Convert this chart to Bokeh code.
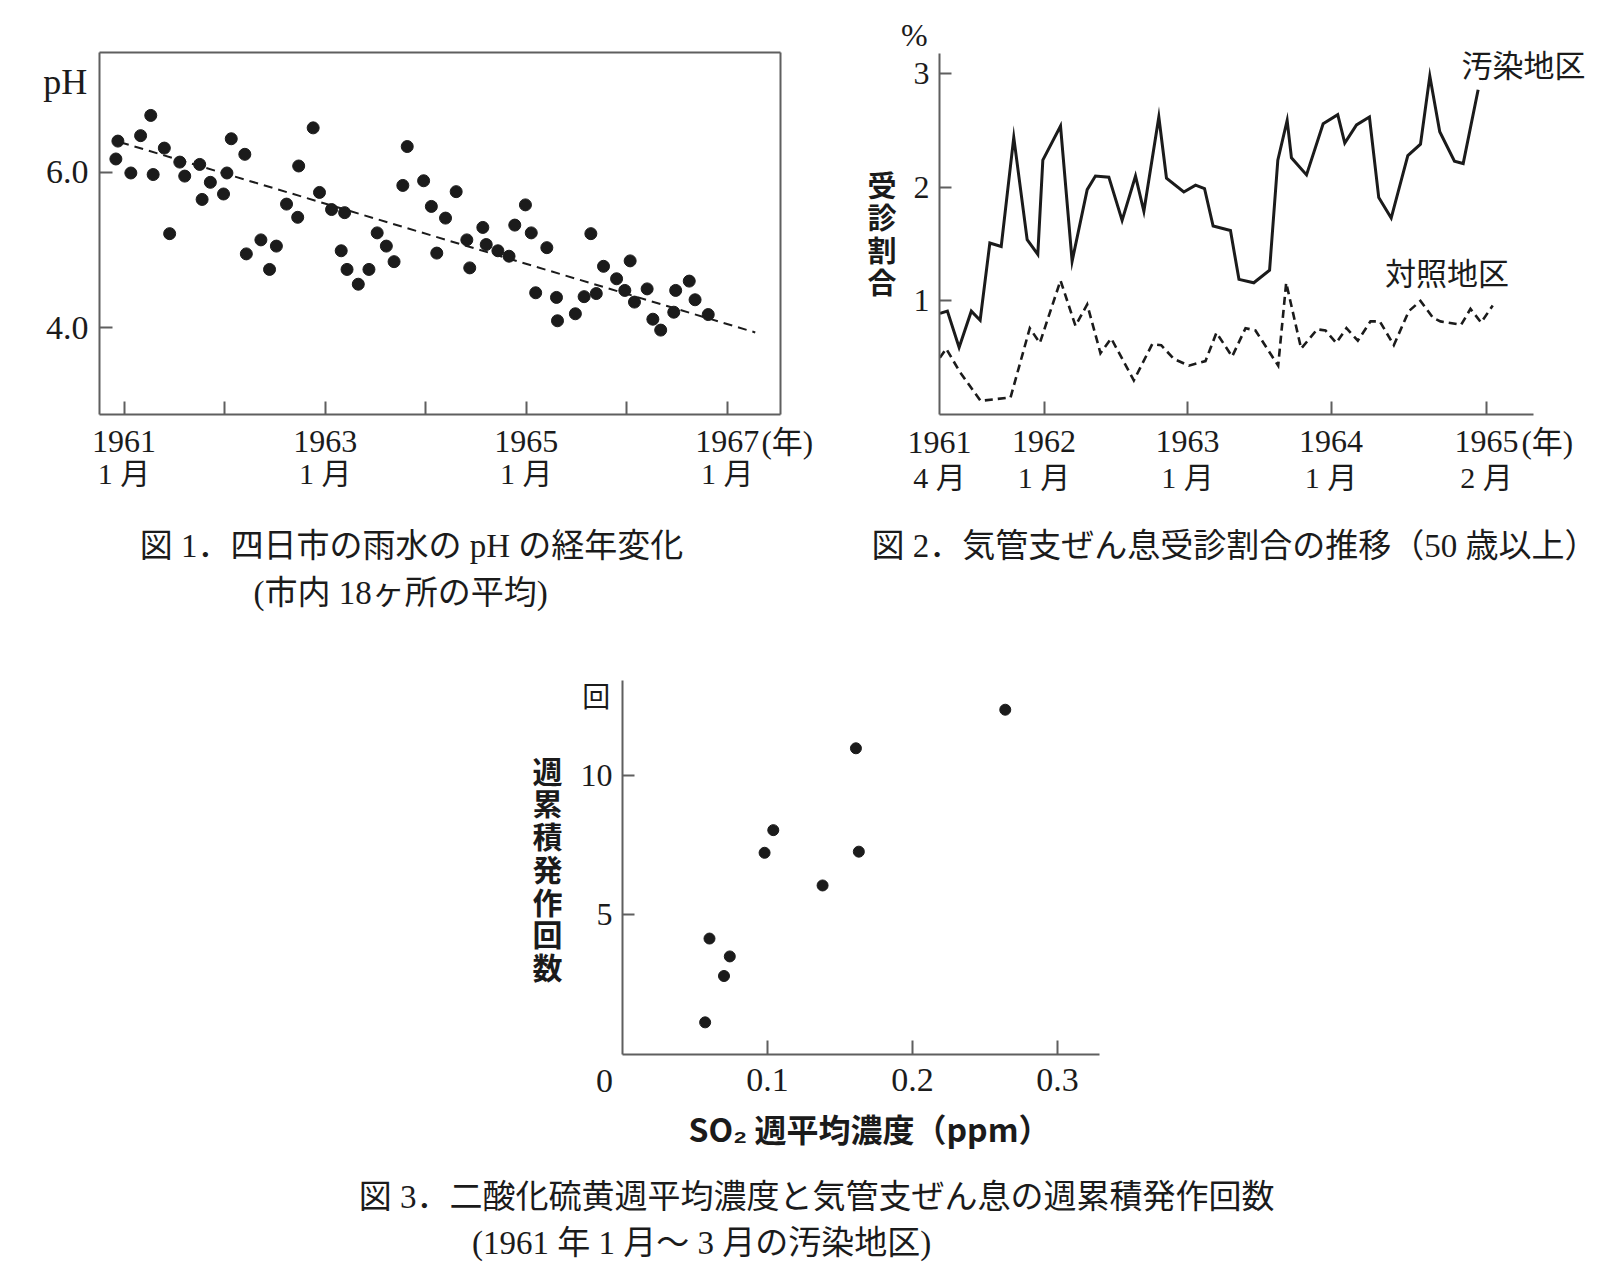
from bokeh.plotting import figure
from bokeh.models import Label, FixedTicker, Range1d, PrintfTickFormatter, LinearAxis
from bokeh.layouts import column, row
from bokeh.embed import file_html
from bokeh.resources import INLINE

# ---------------- data: Fig.1  rain-water pH in Yokkaichi ----------------
ph_year = [1960.918, 1960.938, 1961.067, 1961.164, 1961.265, 1961.289, 1961.400, 1961.453,
           1961.554, 1961.603, 1961.752, 1961.776, 1961.858, 1961.989, 1962.023, 1962.066,
           1962.201, 1962.216, 1962.361, 1962.447, 1962.515, 1962.616, 1962.727, 1962.737,
           1962.881, 1962.944, 1963.064, 1963.194, 1963.160, 1963.218, 1963.330, 1963.436,
           1963.518, 1963.609, 1963.686, 1963.773, 1963.817, 1963.980, 1964.057, 1964.111,
           1964.198, 1964.304, 1964.410, 1964.439, 1964.569, 1964.603, 1964.719, 1964.830,
           1964.887, 1964.993, 1965.051, 1965.095, 1965.206, 1965.302, 1965.312, 1965.490,
           1965.577, 1965.644, 1965.698, 1965.770, 1965.900, 1965.982, 1966.035, 1966.078,
           1966.204, 1966.261, 1966.339, 1966.469, 1966.488, 1966.623, 1966.681, 1966.812]
ph_value = [6.17, 6.40, 5.99, 6.47, 6.73, 5.97, 6.31, 5.21, 6.13, 5.95, 6.10, 5.65, 5.87, 5.72,
            5.99, 6.43, 6.23, 4.95, 5.13, 4.75, 5.05, 5.59, 5.42, 6.08, 6.57, 5.74, 5.52, 5.48,
            4.99, 4.75, 4.56, 4.75, 5.22, 5.05, 4.85, 5.83, 6.33, 5.89, 5.56, 4.96, 5.41, 5.75,
            5.13, 4.77, 5.29, 5.07, 4.99, 4.92, 5.32, 5.58, 5.22, 4.45, 5.03, 4.39, 4.09, 4.18,
            4.40, 5.21, 4.44, 4.79, 4.63, 4.48, 4.86, 4.33, 4.50, 4.11, 3.97, 4.20, 4.48, 4.60,
            4.36, 4.17]
trend_year = [1960.96, 1967.28]
trend_ph = [6.386, 3.94]
fig1_tick_years = [1961, 1962, 1963, 1964, 1965, 1966, 1967]
fig1_label_years = [1961, 1963, 1965, 1967]
fig1_month_labels = ["1 月", "1 月", "1 月", "1 月"]
fig1_y_ticks = [4.0, 6.0]
fig1_xrange = (1960.755, 1967.531)
fig1_yrange = (2.885, 7.539)

# ---------------- data: Fig.2  asthma consultation rate ----------------
# x = months counted from January 1961
polluted_month = [3.30, 3.92, 4.90, 5.92, 6.66, 7.47, 8.42, 9.47, 10.59, 11.48, 11.90, 13.38,
                  14.35, 15.61, 16.30, 17.42, 18.53, 19.65, 20.35, 21.60, 22.24, 23.69, 24.67,
                  25.42, 26.14, 27.59, 28.30, 29.54, 30.86, 31.55, 32.33, 32.69, 33.95, 35.34,
                  36.56, 37.15, 38.13, 39.21, 39.99, 41.03, 42.42, 43.48, 44.26, 45.09, 46.32,
                  47.05, 48.30]
polluted_pct = [0.89, 0.91, 0.59, 0.91, 0.83, 1.51, 1.48, 2.44, 1.54, 1.41, 2.24, 2.54, 1.35,
                1.98, 2.10, 2.09, 1.71, 2.10, 1.79, 2.62, 2.08, 1.96, 2.02, 1.99, 1.66, 1.62,
                1.19, 1.16, 1.27, 2.24, 2.59, 2.26, 2.11, 2.56, 2.64, 2.39, 2.55, 2.62, 1.91,
                1.73, 2.28, 2.38, 2.98, 2.49, 2.23, 2.21, 2.86]
control_month = [3.29, 3.82, 4.93, 6.69, 9.20, 10.81, 11.65, 13.38, 14.63, 15.61, 16.72, 17.62,
                 19.51, 21.05, 21.80, 22.85, 24.11, 25.50, 26.42, 27.73, 28.85, 29.68, 31.58,
                 32.25, 33.50, 34.84, 35.54, 36.43, 37.29, 38.24, 39.30, 40.08, 41.25, 42.50,
                 43.48, 44.54, 45.15, 46.88, 47.66, 48.55, 49.52]
control_pct = [0.50, 0.58, 0.38, 0.12, 0.15, 0.76, 0.63, 1.18, 0.78, 0.97, 0.54, 0.67, 0.30,
               0.62, 0.61, 0.49, 0.43, 0.47, 0.72, 0.51, 0.76, 0.74, 0.43, 1.16, 0.58, 0.75,
               0.74, 0.63, 0.76, 0.65, 0.82, 0.82, 0.61, 0.91, 1.00, 0.85, 0.82, 0.79, 0.93,
               0.81, 0.96]
fig2_start_month = 3.26
fig2_label_months = [fig2_start_month, 12, 24, 36, 49]
fig2_year_labels = ["1961", "1962", "1963", "1964", "1965"]
fig2_month_labels = ["4 月", "1 月", "1 月", "1 月", "2 月"]
fig2_y_ticks = [1, 2, 3]
fig2_xrange = (fig2_start_month, 52.93)
fig2_yrange = (0.0, 3.179)

# ---------------- data: Fig.3  SO2 vs weekly asthma attacks ----------------
so2_ppm = [0.264, 0.161, 0.104, 0.098, 0.163, 0.138, 0.060, 0.074, 0.070, 0.057]
attacks = [12.34, 10.96, 8.03, 7.22, 7.26, 6.05, 4.15, 3.51, 2.81, 1.15]
fig3_x_ticks = [0.1, 0.2, 0.3]
fig3_y_ticks = [5, 10]
fig3_xrange = (0.0, 0.329)
fig3_yrange = (0.0, 13.386)

# ---------------- style ----------------
INK = "#1b1b1b"
GREY = "#5f5f5f"
SERIF = "'Liberation Serif', 'Noto Sans CJK JP', serif"
JP = "'Noto Sans CJK JP', sans-serif"
TOTAL_W = 1618
LEFT_W = 840
TOP_H = 620
BOT_H = 656


def style_axis(ax, tick_in, size, standoff):
    ax.axis_line_color = GREY
    ax.axis_line_width = 2
    ax.major_tick_line_color = GREY
    ax.major_tick_line_width = 2
    ax.major_tick_in = tick_in
    ax.major_tick_out = 0
    ax.minor_tick_line_color = None
    ax.major_label_text_font = SERIF
    ax.major_label_text_color = INK
    ax.major_label_text_font_size = f"{size}px"
    ax.major_label_standoff = standoff


def make_fig(width, height, x0, y0, box_px, xdat, ydat):
    """Figure whose frame fills the whole figure; the plot area (box_px, canvas pixels)
    corresponds to the data box xdat x ydat, axes are fixed at its edges."""
    l, r, t, b = box_px
    xa, xb = xdat
    ya, yb = ydat
    sx = (r - l) / (xb - xa)
    sy = (b - t) / (yb - ya)
    xr = (xa - (l - x0) / sx, xb + (x0 + width - r) / sx)
    yr = (ya - (y0 + height - b) / sy, yb + (t - y0) / sy)
    p = figure(width=width, height=height, x_range=Range1d(*xr), y_range=Range1d(*yr),
               output_backend="svg", toolbar_location=None, min_border=0, title=None)
    p.xgrid.visible = False
    p.ygrid.visible = False
    p.background_fill_color = "white"
    p.border_fill_color = "white"
    p.outline_line_color = None
    p.xaxis.fixed_location = ya
    p.xaxis.bounds = (xa, xb)
    p.yaxis.fixed_location = xa
    p.yaxis.bounds = (ya, yb)

    def fx(px):
        return xa + (px - l) / sx

    def fy(py):
        return yb - (py - t) / sy

    return p, fx, fy


def lab(p, x, y, text, size, font=SERIF, bold=False, align="center", baseline="middle"):
    p.add_layout(Label(x=x, y=y, text=text, text_font=font, text_font_size=f"{size}px",
                       text_font_style="bold" if bold else "normal", text_align=align,
                       text_baseline=baseline, text_color=INK))


def plain_axis(p, place, loc, bounds):
    ax = LinearAxis(fixed_location=loc, bounds=bounds, ticker=FixedTicker(ticks=[]),
                    axis_line_color=GREY, axis_line_width=2,
                    major_tick_line_color=None, minor_tick_line_color=None)
    p.add_layout(ax, place)


# ================= Figure 1 =================
f1, f1x, f1y = make_fig(LEFT_W, TOP_H, 0, 0, (99, 780, 52, 414), fig1_xrange, fig1_yrange)
f1.xaxis.ticker = FixedTicker(ticks=fig1_tick_years)
f1.xaxis.major_label_overrides = {y: (str(y) if y in fig1_label_years else "") for y in fig1_tick_years}
style_axis(f1.xaxis[0], 13, 32, 16)
f1.yaxis.ticker = FixedTicker(ticks=fig1_y_ticks)
f1.yaxis.formatter = PrintfTickFormatter(format="%.1f")
style_axis(f1.yaxis[0], 13, 34, 11)
plain_axis(f1, "above", fig1_yrange[1], fig1_xrange)
plain_axis(f1, "right", fig1_xrange[1], fig1_yrange)

f1.line(trend_year, trend_ph, line_color=INK, line_width=2, line_dash="9 6")
f1.scatter(ph_year, ph_value, size=12, fill_color=INK, line_color=INK)

lab(f1, f1x(64.7), f1y(81), "pH", 36)
for yr_, ml in zip(fig1_label_years, fig1_month_labels):
    lab(f1, yr_, f1y(473), ml, 30)
lab(f1, f1x(761), f1y(442), "(年)", 31, align="left")
lab(f1, f1x(411), f1y(545), "図 1．四日市の雨水の pH の経年変化", 33)
lab(f1, f1x(400), f1y(592), "(市内 18ヶ所の平均)", 33)

# ================= Figure 2 =================
f2, f2x, f2y = make_fig(TOTAL_W - LEFT_W, TOP_H, LEFT_W, 0, (939, 1533, 53, 414),
                        fig2_xrange, fig2_yrange)
f2.xaxis.ticker = FixedTicker(ticks=fig2_label_months[1:])
f2.xaxis.major_label_overrides = dict(zip(fig2_label_months[1:], fig2_year_labels[1:]))
style_axis(f2.xaxis[0], 13, 32, 16)
f2.yaxis.ticker = FixedTicker(ticks=fig2_y_ticks)
style_axis(f2.yaxis[0], 12, 32, 10)

f2.line(control_month, control_pct, line_color=INK, line_width=2.6, line_dash="8 5",
        line_join="miter")
f2.line(polluted_month, polluted_pct, line_color=INK, line_width=3, line_join="miter")

lab(f2, fig2_label_months[0], f2y(442), fig2_year_labels[0], 32)
for m, ml in zip(fig2_label_months, fig2_month_labels):
    lab(f2, m, f2y(477), ml, 30)
lab(f2, f2x(1521), f2y(442), "(年)", 31, align="left")
lab(f2, f2x(913.8), f2y(34), "%", 32)
for i, ch in enumerate("受診割合"):
    lab(f2, f2x(881.5), f2y(183.3 + 32.5 * i), ch, 29, font=JP, bold=True)
lab(f2, f2x(1523), f2y(66), "汚染地区", 31)
lab(f2, f2x(1446.5), f2y(273.5), "対照地区", 31)
lab(f2, f2x(1234), f2y(545), "図 2．気管支ぜん息受診割合の推移（50 歳以上）", 33)

# ================= Figure 3 =================
f3, f3x, f3y = make_fig(TOTAL_W, BOT_H, 0, TOP_H, (622, 1099, 680, 1054), fig3_xrange, fig3_yrange)
f3.xaxis.ticker = FixedTicker(ticks=fig3_x_ticks)
f3.xaxis.formatter = PrintfTickFormatter(format="%.1f")
style_axis(f3.xaxis[0], 14, 34, 14)
f3.yaxis.ticker = FixedTicker(ticks=fig3_y_ticks)
style_axis(f3.yaxis[0], 12, 32, 10)

f3.scatter(so2_ppm, attacks, size=11, fill_color=INK, line_color=INK)

lab(f3, f3x(604), f3y(1080), "0", 34)
lab(f3, f3x(595.7), f3y(696.7), "回", 28)
for i, ch in enumerate("週累積発作回数"):
    lab(f3, f3x(547), f3y(769 + 32.75 * i), ch, 30, font=JP, bold=True)
lab(f3, f3x(869), f3y(1127), "SO₂ 週平均濃度（ppm）", 32, font=JP, bold=True)
lab(f3, f3x(816), f3y(1196), "図 3．二酸化硫黄週平均濃度と気管支ぜん息の週累積発作回数", 33)
lab(f3, f3x(701), f3y(1242), "(1961 年 1 月～ 3 月の汚染地区)", 33)

layout = column(row(f1, f2), f3)
open("out.html", "w").write(file_html(layout, INLINE))
